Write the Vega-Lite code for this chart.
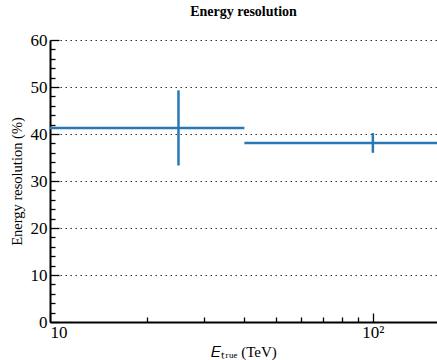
{
  "$schema": "https://vega.github.io/schema/vega-lite/v6.json",
  "width": 387,
  "height": 282,
  "autosize": {"type": "none"},
  "padding": {"left": 50, "top": 40, "right": 0, "bottom": 38},
  "background": "white",
  "title": {
    "text": "Energy resolution",
    "font": "Liberation Serif",
    "fontSize": 14,
    "fontWeight": "bold",
    "color": "black",
    "anchor": "middle",
    "offset": 12
  },
  "config": {
    "view": {"stroke": null},
    "axis": {
      "labelFont": "Liberation Serif",
      "titleFont": "Liberation Serif",
      "labelColor": "black",
      "titleColor": "black",
      "titleFontWeight": "normal",
      "domainColor": "black",
      "domainWidth": 2,
      "tickColor": "black",
      "tickWidth": 1.3
    }
  },
  "data": {
    "values": [
      {"e_min": 10, "e_max": 40, "e": 25, "res": 41.3, "res_lo": 33.3, "res_hi": 49.3},
      {"e_min": 40, "e_max": 160, "e": 100, "res": 38.1, "res_lo": 36.0, "res_hi": 40.2}
    ]
  },
  "encoding": {
    "x": {
      "type": "quantitative",
      "scale": {"type": "log", "domain": [10, 158], "nice": false},
      "axis": {
        "title": "𝐸ₜᵣᵤₑ (TeV)",
        "titleFont": "Liberation Serif",
        "titleFontSize": 15,
        "titlePadding": 4,
        "values": [10, 20, 30, 40, 50, 60, 70, 80, 90, 100],
        "labelExpr": "datum.value == 10 ? '10' : datum.value == 100 ? '10²' : ''",
        "labelFont": "Liberation Serif",
        "labelFontSize": 17,
        "tickSize": {"condition": {"test": "datum.value == 10 || datum.value == 100", "value": -9}, "value": -5},
        "labelPadding": 11,
        "grid": false
      }
    },
    "y": {
      "type": "quantitative",
      "scale": {"domain": [0, 60], "nice": false},
      "axis": {
        "title": "Energy resolution (%)",
        "titleFont": "Liberation Serif",
        "titleFontSize": 14.5,
        "titlePadding": 6,
        "values": [0, 2, 4, 6, 8, 10, 12, 14, 16, 18, 20, 22, 24, 26, 28, 30, 32, 34, 36, 38, 40, 42, 44, 46, 48, 50, 52, 54, 56, 58, 60],
        "labelExpr": "datum.value % 10 === 0 ? datum.label : ''",
        "labelFont": "Liberation Serif",
        "labelFontSize": 17,
        "tickSize": {"condition": {"test": "datum.value % 10 === 0", "value": -9}, "value": -5},
        "labelPadding": 12,
        "grid": true,
        "gridColor": "black",
        "gridDash": [1.5, 3.5],
        "gridWidth": 1.2,
        "gridOpacity": {"condition": {"test": "datum.value % 10 === 0 && datum.value > 0", "value": 0.8}, "value": 0}
      }
    }
  },
  "layer": [
    {
      "mark": {"type": "rule", "color": "#2878b5", "strokeWidth": 2.5, "clip": true},
      "encoding": {
        "x": {"field": "e_min"},
        "x2": {"field": "e_max"},
        "y": {"field": "res"}
      }
    },
    {
      "mark": {"type": "rule", "color": "#2878b5", "strokeWidth": 2.5, "clip": true},
      "encoding": {
        "x": {"field": "e"},
        "y": {"field": "res_lo"},
        "y2": {"field": "res_hi"}
      }
    }
  ]
}
